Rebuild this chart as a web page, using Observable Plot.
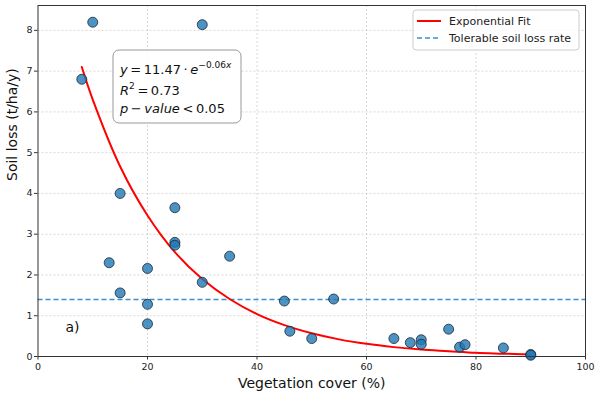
<!DOCTYPE html>
<html>
<head>
<meta charset="utf-8">
<script src="https://cdn.jsdelivr.net/npm/d3@7"></script>
<script src="https://cdn.jsdelivr.net/npm/@observablehq/plot@0.6"></script>
<style>
  html, body { margin: 0; padding: 0; background: #fff; }
  #chart svg { display: block; font-family: "DejaVu Sans", sans-serif; }
</style>
</head>
<body>
<div id="chart"></div>
<script>
// Observed points: vegetation cover (%) and soil loss (t/ha/y)
const cover = [10, 30, 8, 15, 25, 25, 25, 13, 35, 20, 30, 15, 20, 20, 45, 46, 50, 54, 65, 68, 70, 70, 75, 77, 78, 85, 90, 90];
const soilLoss = [8.20, 8.14, 6.80, 4.00, 3.65, 2.80, 2.73, 2.30, 2.46, 2.16, 1.82, 1.56, 1.28, 0.80, 1.36, 0.62, 0.44, 1.41, 0.44, 0.34, 0.41, 0.30, 0.67, 0.23, 0.29, 0.21, 0.05, 0.03];

// Exponential fit curve
const fitX = [8, 10, 15, 20, 25, 30, 35, 40, 45, 50, 55, 60, 65, 70, 75, 80, 85, 90];
const fitY = [7.10, 6.30, 4.66, 3.46, 2.56, 1.90, 1.41, 1.04, 0.77, 0.57, 0.42, 0.31, 0.23, 0.17, 0.13, 0.09, 0.07, 0.05];

const tolerable = 1.4;
const xTicks = [0, 20, 40, 60, 80, 100];
const yTicks = [0, 1, 2, 3, 4, 5, 6, 7, 8];

const points = cover.map((x, i) => ({x, y: soilLoss[i]}));
const fit = fitX.map((x, i) => ({x, y: fitY[i]}));

const plot = Plot.plot({
  width: 600,
  height: 395,
  marginLeft: 37.5,
  marginRight: 15,
  marginTop: 5,
  marginBottom: 39,
  style: {fontFamily: "DejaVu Sans, sans-serif", fontSize: "9.5px", color: "#222"},
  x: {domain: [0, 100]},
  y: {domain: [0, 8.61]},
  marks: [
    Plot.gridX(xTicks.slice(1, -1), {stroke: "#c8c8c8", strokeOpacity: 0.7, strokeDasharray: "2,2"}),
    Plot.gridY(yTicks.slice(1), {stroke: "#c8c8c8", strokeOpacity: 0.7, strokeDasharray: "2,2"}),
    Plot.ruleY([tolerable], {stroke: "#3f8ecb", strokeWidth: 1.5, strokeDasharray: "5,3"}),
    Plot.line(fit, {x: "x", y: "y", stroke: "red", strokeWidth: 2, curve: "catmull-rom"}),
    Plot.dot(points, {x: "x", y: "y", r: 5, fill: "#1f77b4", fillOpacity: 0.8, stroke: "#1c2833", strokeWidth: 0.8}),
    Plot.frame({stroke: "#333", strokeWidth: 1}),
    Plot.axisX(xTicks, {tickSize: 3.5, tickPadding: 3, label: null, fontSize: 9.5, stroke: "#333"}),
    Plot.axisY(yTicks, {tickSize: 3.5, tickPadding: 2, label: null, fontSize: 9.5, stroke: "#333"}),
    Plot.text(["Vegetation cover (%)"], {frameAnchor: "bottom", dy: 31, fontSize: 14, fill: "#111"}),
    Plot.text(["Soil loss (t/ha/y)"], {frameAnchor: "left", dx: -25, rotate: -90, fontSize: 14, fill: "#111"}),
    Plot.text(["a)"], {x: 5, y: 0.7, textAnchor: "start", fontSize: 14, fill: "#111"})
  ]
});

document.getElementById("chart").appendChild(plot);

// Annotation box with the fit equation
const svg = d3.select(plot);
const ann = svg.append("g").attr("font-family", "DejaVu Sans, sans-serif").attr("fill", "#111").attr("text-anchor", "start");
ann.append("rect").attr("x", 113).attr("y", 50).attr("width", 128).attr("height", 73)
  .attr("rx", 6).attr("fill", "white").attr("fill-opacity", 0.9)
  .attr("stroke", "#999").attr("stroke-width", 1);
const t1 = ann.append("text").attr("x", 120).attr("y", 74).attr("font-size", 13);
t1.append("tspan").attr("font-style", "italic").text("y");
t1.append("tspan").text("\u2009=\u200911.47\u2009·\u2009");
t1.append("tspan").attr("font-style", "italic").text("e");
t1.append("tspan").attr("font-size", 9).attr("dy", -6).text("−0.06");
t1.append("tspan").attr("font-size", 9).attr("font-style", "italic").text("x");
const t2 = ann.append("text").attr("x", 120).attr("y", 95).attr("font-size", 13);
t2.append("tspan").attr("font-style", "italic").text("R");
t2.append("tspan").attr("font-size", 9).attr("dy", -6).text("2");
t2.append("tspan").attr("dy", 6).text("\u2009=\u20090.73");
const t3 = ann.append("text").attr("x", 120).attr("y", 113).attr("font-size", 13);
t3.append("tspan").attr("font-style", "italic").text("p");
t3.append("tspan").text("\u2009−\u2009");
t3.append("tspan").attr("font-style", "italic").text("value");
t3.append("tspan").text("\u2009<\u20090.05");

// Legend
const lg = svg.append("g").attr("font-family", "DejaVu Sans, sans-serif").attr("font-size", 11).attr("fill", "#222").attr("text-anchor", "start");
lg.append("rect").attr("x", 413).attr("y", 10).attr("width", 166).attr("height", 40)
  .attr("rx", 3).attr("fill", "white").attr("fill-opacity", 0.8).attr("stroke", "#ccc");
lg.append("line").attr("x1", 417).attr("x2", 441).attr("y1", 21).attr("y2", 21)
  .attr("stroke", "red").attr("stroke-width", 2);
lg.append("text").attr("x", 449).attr("y", 25).text("Exponential Fit");
lg.append("line").attr("x1", 417).attr("x2", 441).attr("y1", 38).attr("y2", 38)
  .attr("stroke", "#3f8ecb").attr("stroke-width", 1.5).attr("stroke-dasharray", "5,3");
lg.append("text").attr("x", 449).attr("y", 42).text("Tolerable soil loss rate");
</script>
</body>
</html>
